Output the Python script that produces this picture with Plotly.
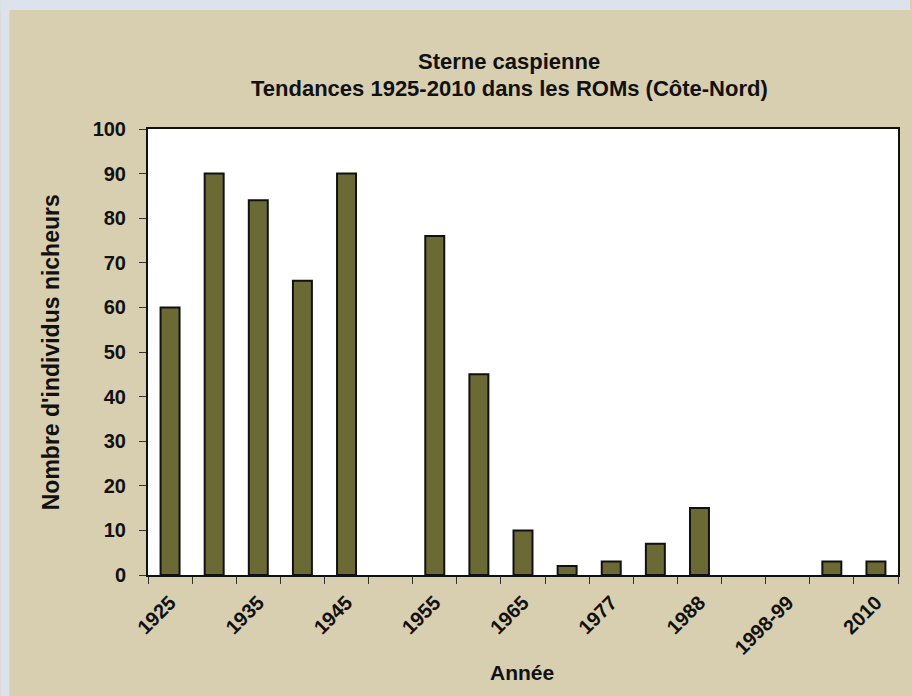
import plotly.graph_objects as go

categories = ["1925", "1930", "1935", "1940", "1945", "1950", "1955", "1960", "1965",
              "1972", "1977", "1983", "1988", "1993", "1998-99", "2005", "2010"]
values = [60, 90, 84, 66, 90, 0, 76, 45, 10, 2, 3, 7, 15, 0, 0, 3, 3]
tick_labels = ["1925", "1935", "1945", "1955", "1965", "1977", "1988", "1998-99", "2010"]

x_idx = list(range(len(categories)))
tick_pos = [categories.index(t) for t in tick_labels]
outline_w = [2 if v > 0 else 0 for v in values]

W, H = 912, 696
L, R, T, B = 148, 12, 129, 121
pw, ph = W - L - R, H - T - B

def px_x(px):
    return (px - L) / pw

def px_y(py):
    return (H - B - py) / ph

BEIGE = "#d8cfb1"
BLUE = "#dce3ec"
FONT = "Liberation Sans, Arial, sans-serif"

fig = go.Figure(go.Bar(
    x=x_idx, y=values,
    marker=dict(color="#6b6a35", line=dict(color="#111111", width=outline_w)),
    width=0.43,
))

fig.update_layout(
    width=W, height=H,
    margin=dict(l=L, r=R, t=T, b=B),
    paper_bgcolor=BEIGE,
    plot_bgcolor="white",
    showlegend=False,
    font=dict(family=FONT, color="#111111"),
    xaxis=dict(
        range=[-0.5, len(categories) - 0.5],
        tickmode="array", tickvals=tick_pos, ticktext=tick_labels,
        tickangle=-45, ticks="", ticklen=0, ticklabelstandoff=6,
        tickfont=dict(size=20, family=FONT, weight="bold"),
        showgrid=False, zeroline=False,
        showline=True, linecolor="#111111", linewidth=2, mirror=True,
        minor=dict(tickmode="array",
                   tickvals=[i - 0.5 for i in range(len(categories) + 1)],
                   ticks="outside", ticklen=7, tickcolor="#333333", tickwidth=1,
                   showgrid=False),
        fixedrange=True,
    ),
    yaxis=dict(
        range=[0, 100], tickmode="linear", tick0=0, dtick=10,
        ticks="outside", ticklen=7, tickcolor="#333333", ticklabelstandoff=9,
        tickfont=dict(size=20, family=FONT, weight="bold"),
        showgrid=False, zeroline=False,
        showline=True, linecolor="#111111", linewidth=2, mirror=True,
        fixedrange=True,
    ),
    shapes=[
        dict(type="rect", xref="paper", yref="paper",
             x0=px_x(0), x1=px_x(9), y0=px_y(H), y1=px_y(0),
             fillcolor=BLUE, line=dict(width=0), layer="below"),
        dict(type="rect", xref="paper", yref="paper",
             x0=px_x(0), x1=px_x(W), y0=px_y(10), y1=px_y(0),
             fillcolor=BLUE, line=dict(width=0), layer="below"),
    ],
    annotations=[
        dict(text="<b>Sterne caspienne</b>", xref="paper", yref="paper",
             x=px_x(510), y=px_y(62), showarrow=False,
             font=dict(size=22, family=FONT), xanchor="center", yanchor="middle"),
        dict(text="<b>Tendances 1925-2010 dans les ROMs (Côte-Nord)</b>", xref="paper", yref="paper",
             x=px_x(510), y=px_y(88), showarrow=False,
             font=dict(size=22, family=FONT), xanchor="center", yanchor="middle"),
        dict(text="<b>Nombre d'individus nicheurs</b>", xref="paper", yref="paper",
             x=px_x(51), y=px_y(352), showarrow=False, textangle=-90,
             font=dict(size=23, family=FONT), xanchor="center", yanchor="middle"),
        dict(text="<b>Année</b>", xref="paper", yref="paper",
             x=px_x(523), y=px_y(672), showarrow=False,
             font=dict(size=21, family=FONT), xanchor="center", yanchor="middle"),
    ],
)

fig.write_html("out.html", config={"displayModeBar": False},
               post_script="document.body.style.margin='0';document.body.style.background='#dce3ec';")
